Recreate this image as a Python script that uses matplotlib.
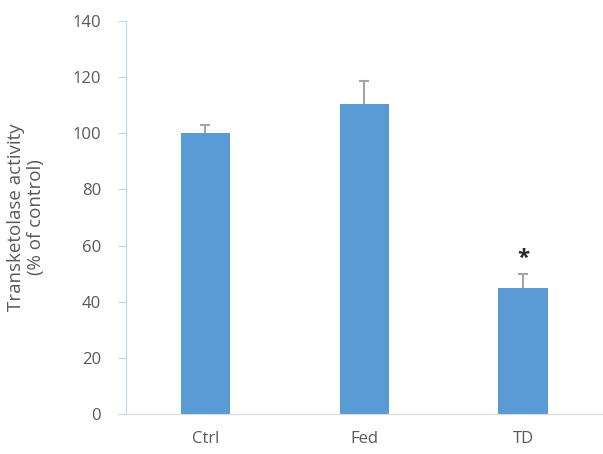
import numpy as np
import matplotlib.pyplot as plt

groups = ["Ctrl", "Fed", "TD"]
activity = [100, 110.4, 45]
sem = [3, 8.2, 5]
yticks = [0, 20, 40, 60, 80, 100, 120, 140]

plt.rcParams['font.family'] = ['Open Sans', 'DejaVu Sans']

fig = plt.figure(figsize=(6.03, 4.54), dpi=100)
ax = fig.add_axes([0.209, 0.088, 0.79, 0.866])

x = np.arange(len(groups))
ax.bar(x, activity, width=0.31, color="#5B9BD5", zorder=2)

# upper error bars only: stem plus a short cap
tops = np.array(activity) + np.array(sem)
ax.vlines(x, activity, tops, color="#A5A5A5", lw=1.5, zorder=3)
ax.plot(x, tops, ls="none", marker="_", ms=7, mew=1.5, color="#A5A5A5", zorder=3)

# significance mark above TD
ax.text(x[2], tops[2] + 1.5, "*", ha="center", va="bottom",
        fontsize=16, fontweight="bold", color="#262626")

ax.set_xlim(-0.5, 2.5)
ax.set_ylim(0, 140)
ax.set_yticks(yticks)
ax.set_xticks(x)
ax.set_xticklabels(groups)

for s in ["top", "right"]:
    ax.spines[s].set_visible(False)
ax.spines["left"].set_color("#BDD7EE")
ax.spines["bottom"].set_color("#D9D9D9")
ax.tick_params(axis="y", colors="#BDD7EE", labelcolor="#595959", length=6,
               labelsize=12, pad=12)
ax.tick_params(axis="x", length=0, labelcolor="#595959", labelsize=12, pad=12)

ax.set_ylabel("Transketolase activity\n(% of control)", fontsize=13.5,
              color="#595959", labelpad=20, linespacing=1.1)

fig.savefig("out.png", dpi=100)
